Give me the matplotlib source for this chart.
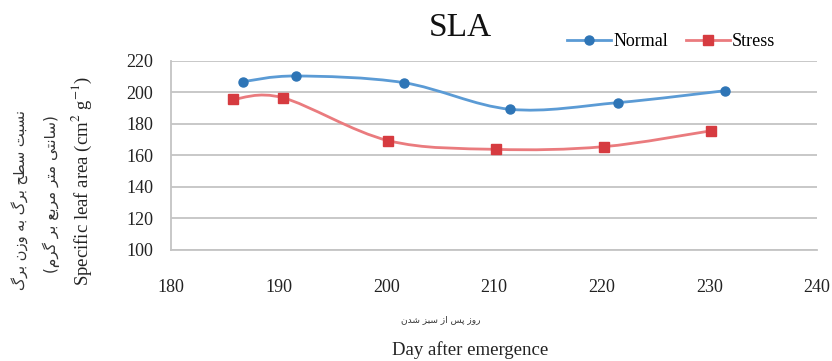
import unicodedata
import numpy as np
import matplotlib
matplotlib.use("Agg")
import matplotlib.pyplot as plt
from matplotlib.path import Path
from matplotlib.patches import PathPatch
from matplotlib.lines import Line2D

days_normal = [186.7, 191.6, 201.6, 211.5, 221.5, 231.5]
sla_normal = [206.7, 210.3, 206.1, 189.2, 193.4, 201.0]
days_stress = [185.8, 190.4, 200.2, 210.2, 220.2, 230.2]
sla_stress = [195.5, 196.5, 169.3, 163.8, 165.5, 175.6]

x_ticks = [180, 190, 200, 210, 220, 230, 240]
y_ticks = [100, 120, 140, 160, 180, 200, 220]

ylabel_fa_1 = "نسبت سطح برگ به وزن برگ"
ylabel_fa_2 = "(سانتی متر مربع بر گرم)"
xlabel_fa = "روز پس از سبز شدن"

RIGHT_JOIN = set("اآأإدذرزژوة")


def shape_fa(text):
    # matplotlib has no Arabic shaping: pick presentation forms and reverse
    def is_ar(c):
        return "\u0600" <= c <= "\u06ff"

    def dual(c):
        return is_ar(c) and c not in RIGHT_JOIN

    def form(c, kinds):
        for k in kinds:
            try:
                return unicodedata.lookup(unicodedata.name(c) + " " + k + " FORM")
            except KeyError:
                pass
        return c

    out = []
    for i, c in enumerate(text):
        if not is_ar(c):
            out.append(c)
            continue
        prev = text[i - 1] if i > 0 else ""
        nxt = text[i + 1] if i + 1 < len(text) else ""
        jp = prev != "" and dual(prev)
        jn = nxt != "" and is_ar(nxt) and dual(c)
        if jp and jn:
            out.append(form(c, ["MEDIAL", "FINAL", "ISOLATED"]))
        elif jp:
            out.append(form(c, ["FINAL", "ISOLATED"]))
        elif jn:
            out.append(form(c, ["INITIAL", "ISOLATED"]))
        else:
            out.append(form(c, ["ISOLATED"]))
    s = "".join(reversed(out))
    return s.translate(str.maketrans("()", ")("))


def smooth_path(x, y):
    # Excel-like smoothed line as cubic Bezier segments
    pts = np.column_stack([x, y])
    n = len(pts)
    verts = [pts[0]]
    codes = [Path.MOVETO]
    for i in range(n - 1):
        p0 = pts[i - 1] if i > 0 else pts[i]
        p1 = pts[i]
        p2 = pts[i + 1]
        p3 = pts[i + 2] if i + 2 < n else p2
        verts += [p1 + (p2 - p0) / 6, p2 - (p3 - p1) / 6, p2]
        codes += [Path.CURVE4] * 3
    return Path(verts, codes)


plt.rcParams["font.family"] = ["Liberation Serif", "DejaVu Sans"]
plt.rcParams["mathtext.fontset"] = "stix"

fig = plt.figure(figsize=(8.32, 3.61), dpi=100)
ax = fig.add_axes([0.2055, 0.3075, 0.7764, 0.5244])

blue_line, blue_mark = "#5b9bd5", "#2e75b6"
red_line, red_mark = "#ea7b7e", "#d63b40"

ax.add_patch(PathPatch(smooth_path(days_normal, sla_normal), facecolor="none",
                       edgecolor=blue_line, lw=2.0, zorder=3))
ax.add_patch(PathPatch(smooth_path(days_stress, sla_stress), facecolor="none",
                       edgecolor=red_line, lw=2.0, zorder=3))
ax.plot(days_normal, sla_normal, "o", color=blue_mark, ms=6.5, zorder=4)
ax.plot(days_stress, sla_stress, "s", color=red_mark, ms=6.5, zorder=4)

ax.set_xlim(180, 240)
ax.set_ylim(100, 220)
ax.set_xticks(x_ticks)
ax.set_yticks(y_ticks)
ax.tick_params(axis="both", length=0, labelsize=13, labelcolor="#222222")
ax.tick_params(axis="x", pad=21)
ax.tick_params(axis="y", pad=13)
ax.grid(axis="y", color="#c4c4c4", lw=1.3)
ax.set_axisbelow(True)
for side in ["top", "right"]:
    ax.spines[side].set_visible(False)
for side in ["left", "bottom"]:
    ax.spines[side].set_color("#c4c4c4")
    ax.spines[side].set_linewidth(1.3)

fig.text(0.553, 0.922, "SLA", fontsize=24, ha="center", va="center", color="#111111")

handles = [
    Line2D([], [], color=blue_line, lw=2.0, marker="o", ms=6.5,
           markerfacecolor=blue_mark, markeredgecolor=blue_mark),
    Line2D([], [], color=red_line, lw=2.0, marker="s", ms=6.5,
           markerfacecolor=red_mark, markeredgecolor=red_mark),
]
fig.legend(handles, ["Normal", "Stress"], loc="center", bbox_to_anchor=(0.807, 0.884),
           ncol=2, frameon=False, fontsize=13, handlelength=2.4, handletextpad=0.15,
           columnspacing=1.0)

fig.text(0.0986, 0.4986, r"Specific leaf area (cm$^{2}$ g$^{-1}$)", rotation=90,
         fontsize=13.5, ha="center", va="center", color="#222222")
fig.text(0.0613, 0.4626, shape_fa(ylabel_fa_2), rotation=90, fontsize=11,
         family=["DejaVu Sans"], ha="center", va="center", color="#333333")
fig.text(0.024, 0.446, shape_fa(ylabel_fa_1), rotation=90, fontsize=10.5,
         family=["DejaVu Sans"], ha="center", va="center", color="#333333")

fig.text(0.530, 0.1136, shape_fa(xlabel_fa), fontsize=6.5, family=["DejaVu Sans"],
         ha="center", va="center", color="#333333")
fig.text(0.565, 0.0305, "Day after emergence", fontsize=13.5, ha="center",
         va="center", color="#222222")

fig.savefig("out.png", dpi=100)
